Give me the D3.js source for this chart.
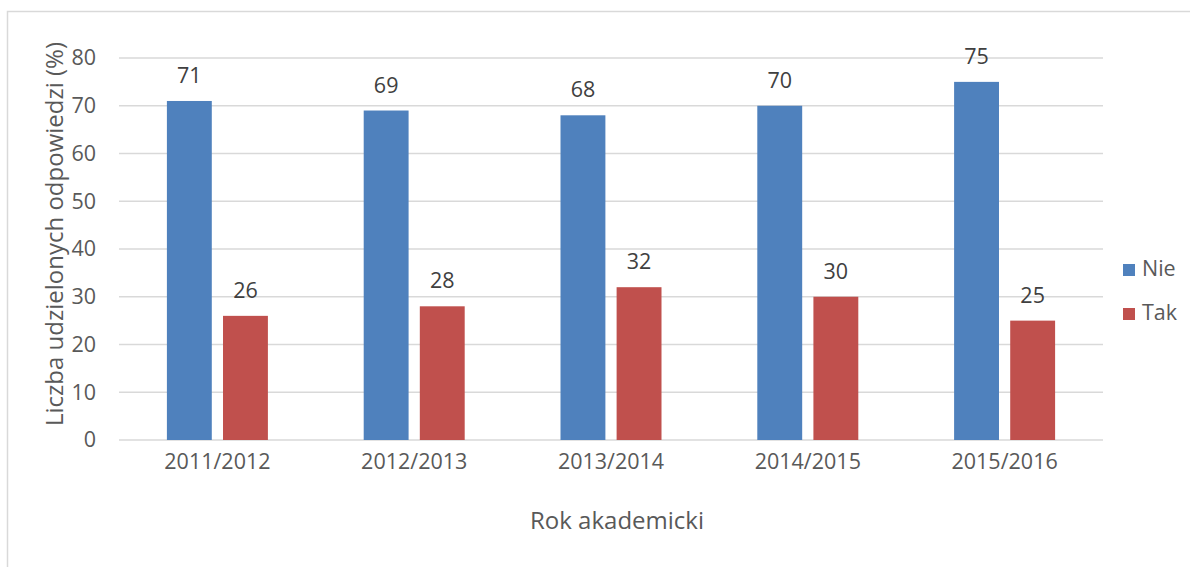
<!DOCTYPE html>
<html>
<head>
<meta charset="utf-8">
<script src="https://cdn.jsdelivr.net/npm/d3@7"></script>
<style>
	body { margin: 0; background: #fff; }
	text { font-family: "Open Sans", sans-serif; }
</style>
</head>
<body>
<svg id="container"></svg>
<script>
// chart data
const years = ["2011/2012", "2012/2013", "2013/2014", "2014/2015", "2015/2016"];
const seriesNames = ["Nie", "Tak"];
const nieValues = [71, 69, 68, 70, 75];
const takValues = [26, 28, 32, 30, 25];
const yTicks = [0, 10, 20, 30, 40, 50, 60, 70, 80];
const colors = ["#4f81bd", "#c0504d"];

function drawChart() {
	const W = 1190, H = 567;
	const margin = { top: 58, right: 87, bottom: 127, left: 119 },
		w = W - margin.left - margin.right,
		h = H - margin.top - margin.bottom;

	var svg = d3.select("#container")
		.attr("width", W)
		.attr("height", H);

	// outer frame (runs off the right/bottom edge like the source)
	svg.append("rect")
		.attr("x", 7.5)
		.attr("y", 11.5)
		.attr("width", W + 20)
		.attr("height", H + 20)
		.attr("fill", "none")
		.attr("stroke", "#d9d9d9")
		.attr("stroke-width", 1.5);

	var g = svg.append("g")
		.attr("transform", "translate(" + margin.left + "," + margin.top + ")");

	var xScale = d3.scaleBand().domain(years).range([0, w]);
	var xInner = d3.scaleBand().domain(seriesNames)
		.range([xScale.bandwidth() / 2 - 50.5, xScale.bandwidth() / 2 + 50.5])
		.paddingInner(0.2);
	var yScale = d3.scaleLinear().domain([0, 80]).range([h, 0]);

	// gridlines
	g.append("g")
		.selectAll("line")
		.data(yTicks)
		.enter()
		.append("line")
		.attr("x1", 0)
		.attr("x2", w)
		.attr("y1", d => yScale(d))
		.attr("y2", d => yScale(d))
		.attr("stroke", "#d9d9d9")
		.attr("stroke-width", 1.5);

	// y axis labels
	var yAxis = d3.axisLeft(yScale).tickValues(yTicks).tickSize(0).tickPadding(23);
	var gY = g.append("g").call(yAxis);
	gY.select(".domain").remove();
	gY.selectAll("text")
		.attr("fill", "#595959")
		.style("font-size", "21.5px")
		.style("font-family", "'Open Sans', sans-serif");

	// x axis labels
	var xAxis = d3.axisBottom(xScale).tickSize(0).tickPadding(14);
	var gX = g.append("g")
		.attr("transform", "translate(0," + h + ")")
		.call(xAxis);
	gX.select(".domain").remove();
	gX.selectAll("text")
		.attr("fill", "#595959")
		.style("font-size", "21.5px")
		.style("font-family", "'Open Sans', sans-serif");

	const rows = years.map((y, i) => ({ year: y, values: [nieValues[i], takValues[i]] }));

	var groups = g.selectAll(".group")
		.data(rows)
		.enter()
		.append("g")
		.attr("transform", d => "translate(" + xScale(d.year) + ",0)");

	groups.selectAll("rect")
		.data(d => d.values.map((v, k) => ({ key: seriesNames[k], value: v, k: k })))
		.enter()
		.append("rect")
		.attr("x", d => xInner(d.key))
		.attr("y", d => yScale(d.value))
		.attr("width", xInner.bandwidth())
		.attr("height", d => h - yScale(d.value))
		.attr("fill", d => colors[d.k]);

	// data labels
	groups.selectAll(".lbl")
		.data(d => d.values.map((v, k) => ({ key: seriesNames[k], value: v })))
		.enter()
		.append("text")
		.attr("x", d => xInner(d.key) + xInner.bandwidth() / 2)
		.attr("y", d => yScale(d.value) - 18)
		.attr("text-anchor", "middle")
		.attr("fill", "#404040")
		.style("font-size", "21.5px")
		.text(d => d.value);

	// axis titles
	svg.append("text")
		.attr("x", 617)
		.attr("y", 529)
		.attr("text-anchor", "middle")
		.attr("fill", "#595959")
		.style("font-size", "24px")
		.text("Rok akademicki");

	svg.append("text")
		.attr("transform", "translate(63,234) rotate(-90)")
		.attr("text-anchor", "middle")
		.attr("fill", "#595959")
		.style("font-size", "24px")
		.text("Liczba udzielonych odpowiedzi (%)");

	// legend
	var legend = svg.append("g");
	seriesNames.forEach((name, i) => {
		var ly = 264 + i * 44;
		legend.append("rect")
			.attr("x", 1123)
			.attr("y", ly)
			.attr("width", 12)
			.attr("height", 12)
			.attr("fill", colors[i]);
		legend.append("text")
			.attr("x", 1142)
			.attr("y", ly + 12)
			.attr("fill", "#595959")
			.style("font-size", "21.5px")
			.text(name);
	});
}

drawChart();
</script>
</body>
</html>
